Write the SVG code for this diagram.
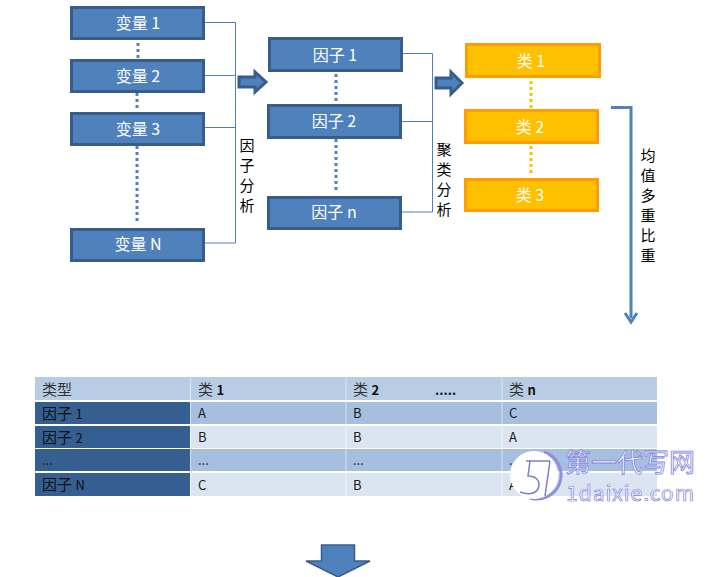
<svg xmlns="http://www.w3.org/2000/svg" width="713" height="577" viewBox="0 0 713 577">
<defs>
<style>
text{font-family:"Noto Sans CJK SC","Liberation Sans",sans-serif}
.b{fill:#4f81bd;stroke:#385d8a;stroke-width:3}
.o{fill:#ffc000;stroke:#ff9c00;stroke-width:3}
.bt{font-size:16px;fill:#fff;text-anchor:middle}
.v{font-size:15px;fill:#000;text-anchor:middle}
.l{fill:none;stroke:#4f81bd;stroke-width:1}
.d{fill:none;stroke:#4f81bd;stroke-width:3;stroke-dasharray:3 3}
.dy{fill:none;stroke:#ffc000;stroke-width:3;stroke-dasharray:3 3}
.arr{fill:#4f81bd;stroke:#385d8a;stroke-width:3}
.t{font-size:13px;fill:#1a1a1a}
.c{font-size:15px;fill:#333}
.kt{font-size:15px;fill:#111}
.h{fill:#b8cce4}.r1{fill:#a7bfde}.r2{fill:#dbe5f1}.k{fill:#345f90}
</style>
</defs>
<rect width="713" height="577" fill="#fff"/>
<g id="connectors">
<path class="d" d="M138 43V58M137 93V111M137 146V224"/>
<path class="d" d="M336 74V103M336 139V191"/>
<path class="dy" d="M531 81V108M531 146V174"/>
<path class="l" d="M204 22.500H235.500V243H204M204 75.500H235.500M204 127.500H235.500"/>
<path class="l" d="M402 53.500H432.500V212H402M402 121.500H432.500"/>
<path d="M611 107.500H631V318" fill="none" stroke="#4f81bd" stroke-width="3"/>
<path d="M625 313L631 322L637 313" fill="none" stroke="#4f81bd" stroke-width="3"/>
<path class="arr" d="M239 77H255V72L266 82L255 92V87H239Z"/>
<path class="arr" d="M436 78H451V72L462 83L451 94V88H436Z"/>
</g>
<g id="n-v1"><rect class="b" x="71.500" y="7.500" width="132" height="31"/><text class="bt" x="138" y="29">变量 1</text></g>
<g id="n-v2"><rect class="b" x="71.500" y="60.500" width="132" height="31"/><text class="bt" x="138" y="82">变量 2</text></g>
<g id="n-v3"><rect class="b" x="71.500" y="113.500" width="132" height="31"/><text class="bt" x="138" y="135">变量 3</text></g>
<g id="n-vn"><rect class="b" x="71.500" y="229.500" width="132" height="31"/><text class="bt" x="138" y="250">变量 N</text></g>
<g id="n-f1"><rect class="b" x="269.500" y="38.500" width="132" height="32"/><text class="bt" x="335" y="61">因子 1</text></g>
<g id="n-f2"><rect class="b" x="268.500" y="105.500" width="132" height="32"/><text class="bt" x="334" y="127">因子 2</text></g>
<g id="n-fn"><rect class="b" x="268.500" y="197.500" width="132" height="31"/><text class="bt" x="334" y="218">因子 n</text></g>
<g id="n-c1"><rect class="o" x="466.500" y="44.500" width="133" height="32"/><text class="bt" x="531" y="67">类 1</text></g>
<g id="n-c2"><rect class="o" x="465.500" y="110.500" width="132" height="32"/><text class="bt" x="530" y="133">类 2</text></g>
<g id="n-c3"><rect class="o" x="465.500" y="179.500" width="132" height="31"/><text class="bt" x="530" y="201">类 3</text></g>
<g id="label-factor"><text class="v" x="247" y="151">因</text><text class="v" x="247" y="171">子</text><text class="v" x="247" y="191">分</text><text class="v" x="247" y="211">析</text></g>
<g id="label-cluster"><text class="v" x="444" y="155">聚</text><text class="v" x="444" y="175">类</text><text class="v" x="444" y="195">分</text><text class="v" x="444" y="215">析</text></g>
<g id="label-mean"><text class="v" x="648" y="161">均</text><text class="v" x="648" y="181">值</text><text class="v" x="648" y="201">多</text><text class="v" x="648" y="221">重</text><text class="v" x="648" y="241">比</text><text class="v" x="648" y="261">重</text></g>
<g id="table">
<rect class="h" x="35" y="377" width="622" height="23"/>
<rect class="r1" x="35" y="402" width="622" height="22"/>
<rect class="r2" x="35" y="426" width="622" height="22"/>
<rect class="r1" x="35" y="449" width="622" height="22"/>
<rect class="r2" x="35" y="473" width="622" height="23"/>
<rect class="k" x="35" y="402" width="155" height="22"/>
<rect class="k" x="35" y="426" width="155" height="22"/>
<rect class="k" x="35" y="449" width="155" height="22"/>
<rect class="k" x="35" y="473" width="155" height="23"/>
<path d="M190.500 377V496M346 377V496M502 377V496" stroke="#fff" stroke-opacity=".55" fill="none"/>
<g class="t">
<text class="c" x="42" y="395">类型</text><text class="c" x="198" y="395">类 <tspan font-weight="700" font-size="13" fill="#111">1</tspan></text><text class="c" x="353" y="395">类 <tspan font-weight="700" font-size="13" fill="#111">2</tspan></text><text x="435" y="395" font-weight="700">.....</text><text class="c" x="509" y="395">类 <tspan font-weight="700" font-size="13" fill="#111">n</tspan></text>
<text class="kt" x="42" y="419">因子 <tspan font-size="13">1</tspan></text><text x="198" y="418">A</text><text x="353" y="418">B</text><text x="509" y="418">C</text>
<text class="kt" x="42" y="443">因子 <tspan font-size="13">2</tspan></text><text x="198" y="442">B</text><text x="353" y="442">B</text><text x="509" y="442">A</text>
<text x="42" y="465">...</text><text x="198" y="465">...</text><text x="353" y="465">...</text><text x="509" y="465">...</text>
<text class="kt" x="42" y="490">因子 <tspan font-size="13">N</tspan></text><text x="198" y="490">C</text><text x="353" y="490">B</text><text x="509" y="490">A</text>
</g>
</g>
<g id="big-arrow"><path d="M321.500 545H354.500V561H370L338 577L306 561H321.500Z" fill="#4f81bd" stroke="#385d8a" stroke-width="1.500"/></g>
<g id="watermark">
<path d="M544 452A24 24 0 0 1 530 498" fill="none" stroke="#8f8fdc" stroke-width="3"/>
<circle cx="534" cy="475" r="24" fill="#fff"/>
<path d="M526 461H550M530 461L528 476C537 476 541 482 538 489C535 494 528 495 520 492M550 461L545 496" fill="none" stroke="#7d7dd6" stroke-width="1.500"/>
<text x="565" y="472" font-size="26" fill="#fff" stroke="#8080e0" stroke-width=".8">第一代写网</text>
<text x="566" y="501" font-size="21" font-family="Liberation Sans,sans-serif" fill="#fff" stroke="#8080e0" stroke-width=".7" letter-spacing="1">1daixie.com</text>
</g>
</svg>
